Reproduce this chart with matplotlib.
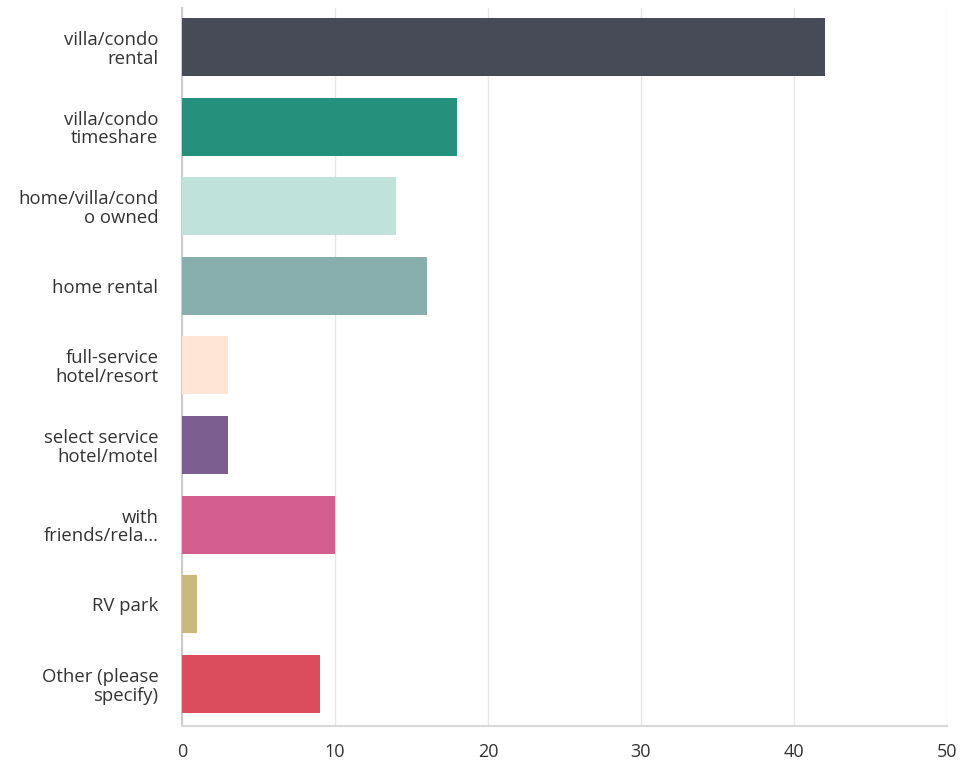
import matplotlib
matplotlib.use("Agg")
import matplotlib.pyplot as plt

categories = [
    "villa/condo\nrental",
    "villa/condo\ntimeshare",
    "home/villa/cond\no owned",
    "home rental",
    "full-service\nhotel/resort",
    "select service\nhotel/motel",
    "with\nfriends/rela...",
    "RV park",
    "Other (please\nspecify)",
]
values = [42, 18, 14, 16, 3, 3, 10, 1, 9]
colors = ["#474B57", "#25907B", "#BFE3DA", "#88AFAD", "#FEE5D6",
          "#7D5E90", "#D45F8E", "#C9B97A", "#DB4C5C"]
xticks = [0, 10, 20, 30, 40, 50]

plt.rcParams['font.family'] = ['Open Sans', 'DejaVu Sans']

fig = plt.figure(figsize=(9.62, 7.65), dpi=100)
ax = fig.add_axes([182 / 962, 1 - 726 / 765, (947 - 182) / 962, (726 - 8) / 765])

pos = list(range(len(categories)))
ax.barh(pos, values, height=0.73, color=colors, zorder=3)

ax.set_xlim(0, 50)
ax.set_ylim(8.53, -0.49)
ax.set_xticks(xticks)
ax.set_yticks(pos)
ax.set_yticklabels(categories, fontsize=13.3, color="#333333", linespacing=1.05)
ax.tick_params(axis="x", labelsize=13, labelcolor="#333333", length=0, pad=12)
ax.tick_params(axis="y", length=0, pad=17)

ax.grid(axis="x", color="#E6E6E6", linewidth=1, zorder=0)
for s in ["top", "right"]:
    ax.spines[s].set_visible(False)
ax.spines["left"].set_color("#CCCCCC")
ax.spines["bottom"].set_color("#D9D9D9")
ax.spines["left"].set_linewidth(1.5)
ax.spines["bottom"].set_linewidth(1.5)

fig.savefig("out.png", dpi=100)
